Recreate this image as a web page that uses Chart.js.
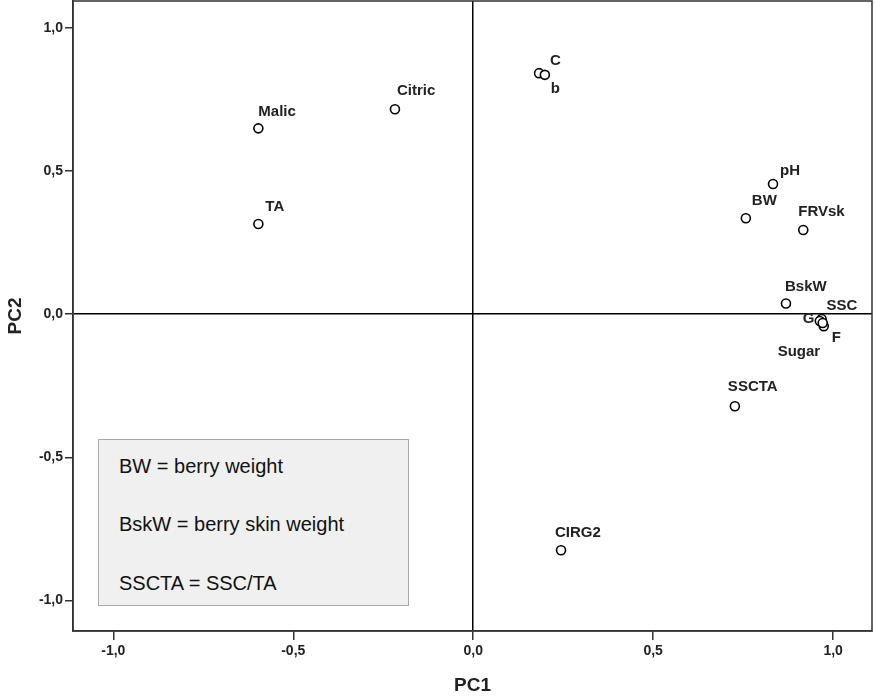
<!DOCTYPE html>
<html>
<head>
<meta charset="utf-8">
<script src="https://cdn.jsdelivr.net/npm/chart.js@4/dist/chart.umd.min.js"></script>
<style>
  html, body { margin: 0; padding: 0; background: #fff; }
  #wrap { position: relative; width: 875px; height: 697px; }
  #legendBox {
    position: absolute; left: 98px; top: 439px; width: 309px; height: 165px;
    background: #f0f0f0; border: 1.5px solid #a8a8a8;
    font-family: "Liberation Sans", Arial, sans-serif; font-size: 20px; color: #111;
  }
  #legendBox div { position: absolute; left: 20px; line-height: 24px; white-space: nowrap; }
</style>
</head>
<body>
<div id="wrap">
  <canvas id="c" width="875" height="697"></canvas>
  <div id="legendBox">
    <div style="top:14px">BW = berry weight</div>
    <div style="top:72px">BskW = berry skin weight</div>
    <div style="top:131px">SSCTA = SSC/TA</div>
  </div>
</div>
<script>
// ---- data ----
const varNames = ['Malic','Citric','TA','C','b','pH','BW','FRVsk','BskW','SSC','G','F','Sugar','SSCTA','CIRG2'];
const pc1 = [-0.597,-0.2175,-0.597,0.183,0.199,0.833,0.7575,0.917,0.869,0.968,0.963,0.974,0.971,0.727,0.244];
const pc2 = [0.649,0.716,0.315,0.842,0.836,0.4545,0.335,0.294,0.037,-0.017,-0.024,-0.042,-0.031,-0.322,-0.825];
const xTicks = [-1.0,-0.5,0.0,0.5,1.0];
const yTicks = [-1.0,-0.5,0.0,0.5,1.0];
const xTitle = 'PC1';
const yTitle = 'PC2';

// label placement relative to each marker (pixels), kept separate from data
const labelOffsets = {
  Malic:[0,-17], Citric:[2,-18], TA:[7,-17], C:[11,-12], b:[6,14], pH:[7,-13],
  BW:[6,-17], FRVsk:[-5,-18], BskW:[-1,-17], SSC:[5,-13], G:[-17,-2], F:[8,12],
  Sugar:[-45,29], SSCTA:[-7,-19], CIRG2:[-6,-17]
};

const points = pc1.map((x, i) => ({x: x, y: pc2[i], name: varNames[i]}));
const fmt = v => v.toFixed(1).replace('.', ',');
const fam = "'Liberation Sans Narrow', 'Arial Narrow', 'Liberation Sans', Arial, sans-serif";
const tickFont = {family: fam, size: 14, weight: 'bold'};
const titleFont = {family: fam, size: 19, weight: 'bold'};

const frame = {
  id: 'frame',
  afterDatasetsDraw(chart) {
    const {ctx, chartArea: a} = chart;
    ctx.save();
    ctx.strokeStyle = '#333';
    ctx.lineWidth = 1.5;
    ctx.strokeRect(a.left, a.top, a.right - a.left, a.bottom - a.top);
    ctx.restore();
  }
};

const pointLabels = {
  id: 'pointLabels',
  beforeDatasetsDraw(chart) {
    const {ctx} = chart;
    const xs = chart.scales.x, ys = chart.scales.y;
    ctx.save();
    ctx.font = "bold 15px " + fam;
    ctx.fillStyle = '#222';
    ctx.textAlign = 'left';
    ctx.textBaseline = 'middle';
    points.forEach(p => {
      const o = labelOffsets[p.name] || [5, -12];
      ctx.fillText(p.name, xs.getPixelForValue(p.x) + o[0], ys.getPixelForValue(p.y) + o[1]);
    });
    ctx.restore();
  }
};

new Chart(document.getElementById('c'), {
  type: 'scatter',
  data: {
    datasets: [{
      data: points,
      pointStyle: 'circle',
      pointRadius: 4.5,
      pointBorderWidth: 1.6,
      borderColor: '#000',
      backgroundColor: '#fff',
      pointBackgroundColor: '#fff',
      pointBorderColor: '#000'
    }]
  },
  options: {
    responsive: false,
    animation: false,
    layout: {autoPadding: false, padding: {top: 1, right: 3, left: 0, bottom: 0}},
    plugins: {legend: {display: false}, tooltip: {enabled: false}},
    scales: {
      x: {
        type: 'linear', min: -1.112, max: 1.108,
        afterBuildTicks: s => { s.ticks = xTicks.map(v => ({value: v})); },
        afterFit: s => { s.height = 66; s.paddingLeft = 0; s.paddingRight = 0; s.paddingTop = 0; s.paddingBottom = 0; },
        ticks: {callback: v => fmt(v), font: tickFont, color: '#222', padding: 3, maxRotation: 0},
        grid: {
          color: c => (c.tick && c.tick.value === 0) ? '#000' : 'rgba(0,0,0,0)',
          lineWidth: 1.5, tickColor: '#333', tickLength: 9, tickWidth: 1.5
        },
        border: {display: true, color: '#333', width: 1.5},
        title: {display: true, text: xTitle, font: titleFont, color: '#222', padding: {top: 0, bottom: 0}}
      },
      y: {
        type: 'linear', min: -1.107, max: 1.094,
        afterBuildTicks: s => { s.ticks = yTicks.map(v => ({value: v})); },
        afterFit: s => { s.width = 73; s.paddingLeft = 0; s.paddingRight = 0; s.paddingTop = 0; s.paddingBottom = 0; },
        ticks: {callback: v => fmt(v), font: tickFont, color: '#222', padding: 2},
        grid: {
          color: c => (c.tick && c.tick.value === 0) ? '#000' : 'rgba(0,0,0,0)',
          lineWidth: 1.5, tickColor: '#333', tickLength: 8, tickWidth: 1.5
        },
        border: {display: true, color: '#333', width: 1.5},
        title: {display: true, text: yTitle, font: titleFont, color: '#222', padding: {top: 4, bottom: 0}}
      }
    }
  },
  plugins: [pointLabels, frame]
});
</script>
</body>
</html>
